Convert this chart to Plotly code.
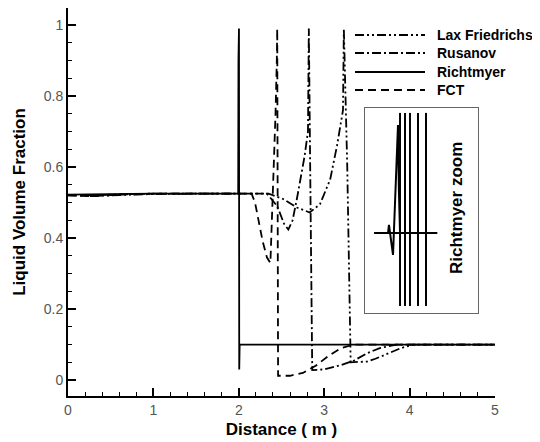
import plotly.graph_objects as go

# ---------------- data ----------------
rich_x = [0, 0.3, 0.6, 1.0, 1.5, 1.993, 1.996, 1.999, 2.002, 2.005, 2.01, 5.0]
rich_y = [0.522, 0.523, 0.525, 0.525, 0.525, 0.525, 0.9, 0.35, 0.99, 0.03, 0.1, 0.1]

fct_x = [0, 0.3, 0.6, 1.0, 1.5, 2.0, 2.15, 2.19, 2.23, 2.28, 2.33, 2.37, 2.39, 2.41, 2.43,
         2.445, 2.45, 2.455, 2.46, 2.6, 2.75, 2.9, 3.05, 3.2, 3.35, 5.0]
fct_y = [0.52, 0.518, 0.522, 0.525, 0.525, 0.525, 0.525, 0.5, 0.45, 0.39, 0.345, 0.33, 0.47, 0.6, 0.75,
         0.9, 0.99, 0.5, 0.012, 0.012, 0.02, 0.04, 0.068, 0.09, 0.1, 0.1]

rus_x = [0, 0.3, 0.6, 1.0, 1.5, 2.0, 2.33, 2.45, 2.53, 2.58, 2.63, 2.68, 2.72, 2.77, 2.81,
         2.82, 2.84, 2.86, 3.0, 3.2, 3.35, 3.5, 3.65, 3.85, 5.0]
rus_y = [0.521, 0.52, 0.523, 0.525, 0.525, 0.525, 0.525, 0.49, 0.44, 0.424, 0.45, 0.51, 0.565, 0.63, 0.7,
         0.99, 0.5, 0.028, 0.03, 0.042, 0.055, 0.075, 0.09, 0.1, 0.1]

lax_x = [0, 0.3, 0.6, 1.0, 1.5, 2.0, 2.35, 2.52, 2.68, 2.83, 2.95, 3.07, 3.15, 3.22,
         3.23, 3.27, 3.31, 3.5, 3.6, 3.75, 3.9, 4.05, 5.0]
lax_y = [0.52, 0.518, 0.521, 0.524, 0.525, 0.525, 0.525, 0.51, 0.486, 0.472, 0.495, 0.565, 0.66, 0.76,
         0.99, 0.6, 0.05, 0.052, 0.06, 0.075, 0.09, 0.1, 0.1]

# inset ("Richtmyer zoom"), normalised inset units
zoom_base_x = [0.08, 0.64]
zoom_base_y = [0.39, 0.39]
zoom_spike_x = [0.204, 0.212, 0.248, 0.265, 0.283, 0.292, 0.30, 0.31]
zoom_spike_y = [0.39, 0.43, 0.283, 0.54, 0.75, 0.917, 0.6, 0.39]
zoom_vert_x = [0.31, 0.354, 0.398, 0.469, 0.54]
zoom_vert_y = [0.034, 0.976]

series_names = ["Lax Friedrichs", "Rusanov", "Richtmyer", "FCT"]

x_ticks = [0, 1, 2, 3, 4, 5]
y_ticks = [0, 0.2, 0.4, 0.6, 0.8, 1.0]

# ---------------- styles ----------------
LAX_DASH = "9px,3px,2px,3px,2px,3px"
RUS_DASH = "9px,3px,2px,3px"
FCT_DASH = "8px,5px"
FONT = "Arial, Liberation Sans, sans-serif"
LW = 1.8

fig = go.Figure()
fig.add_trace(go.Scatter(x=lax_x, y=lax_y, mode="lines", name=series_names[0],
                         line=dict(color="black", width=LW, dash=LAX_DASH), showlegend=False))
fig.add_trace(go.Scatter(x=rus_x, y=rus_y, mode="lines", name=series_names[1],
                         line=dict(color="black", width=LW, dash=RUS_DASH), showlegend=False))
fig.add_trace(go.Scatter(x=rich_x, y=rich_y, mode="lines", name=series_names[2],
                         line=dict(color="black", width=LW), showlegend=False))
fig.add_trace(go.Scatter(x=fct_x, y=fct_y, mode="lines", name=series_names[3],
                         line=dict(color="black", width=LW, dash=FCT_DASH), showlegend=False))

# inset traces
vx, vy = [], []
for xv in zoom_vert_x:
    vx += [xv, xv, None]
    vy += [zoom_vert_y[0], zoom_vert_y[1], None]
fig.add_trace(go.Scatter(x=vx, y=vy, mode="lines", xaxis="x2", yaxis="y2",
                         line=dict(color="black", width=2), showlegend=False, hoverinfo="skip"))
fig.add_trace(go.Scatter(x=zoom_base_x, y=zoom_base_y, mode="lines", xaxis="x2", yaxis="y2",
                         line=dict(color="black", width=2), showlegend=False, hoverinfo="skip"))
fig.add_trace(go.Scatter(x=zoom_spike_x, y=zoom_spike_y, mode="lines", xaxis="x2", yaxis="y2",
                         line=dict(color="black", width=2), showlegend=False, hoverinfo="skip"))

# the page body has an 8px margin: work in window pixels and subtract it
OFF = 8
WIN_W, WIN_H = 540, 442
W, H = WIN_W - OFF, WIN_H - OFF
L, R, T, B = 68 - OFF, 495 - OFF, 8 - OFF, 396 - OFF

def px(x):
    return (x - OFF - L) / (R - L)
def py(y):
    return (B - (y - OFF)) / (B - T)

# manual legend
legend_dash = [LAX_DASH, RUS_DASH, "solid", FCT_DASH]
legend_rows = [35, 53, 72, 90]
for name, dash, row in zip(series_names, legend_dash, legend_rows):
    fig.add_shape(type="line", xref="paper", yref="paper",
                  x0=px(355), x1=px(425), y0=py(row), y1=py(row),
                  line=dict(color="black", width=LW, dash=dash))
    fig.add_annotation(text=name, xref="paper", yref="paper", x=px(435), y=py(row),
                       xanchor="left", yanchor="middle", showarrow=False,
                       font=dict(family=FONT, size=14, color="black", weight="bold"))

fig.add_annotation(text="Richtmyer zoom", xref="x2", yref="y2", x=0.81, y=0.51,
                   textangle=-90, showarrow=False, xanchor="center", yanchor="middle",
                   font=dict(family=FONT, size=17, color="black", weight="bold"))

fig.update_layout(
    width=W, height=H,
    margin=dict(l=L, r=W - R, t=T, b=H - B, autoexpand=False),
    paper_bgcolor="white", plot_bgcolor="white",
    font=dict(family=FONT),
    xaxis=dict(range=[0, 5], tickvals=x_ticks, ticks="inside", ticklen=8, tickwidth=1.5,
               tickcolor="black", showline=True, linecolor="black", linewidth=2,
               showgrid=False, zeroline=False,
               minor=dict(dtick=0.2, ticks="inside", ticklen=4, tickwidth=1.2, tickcolor="black",
                          showgrid=False),
               tickfont=dict(family=FONT, size=14, color="#555555"),
               title=dict(text="Distance ( m )", standoff=6,
                          font=dict(family=FONT, size=17, color="black", weight="bold"))),
    yaxis=dict(range=[-0.045, 1.048], tickvals=y_ticks, ticktext=["0", "0.2", "0.4", "0.6", "0.8", "1"],
               ticks="inside", ticklen=8, tickwidth=1.5,
               tickcolor="black", showline=True, linecolor="black", linewidth=2,
               showgrid=False, zeroline=False,
               minor=dict(dtick=0.05, ticks="inside", ticklen=4, tickwidth=1.2, tickcolor="black",
                          showgrid=False),
               tickfont=dict(family=FONT, size=14, color="#555555"),
               title=dict(text="Liquid Volume Fraction", standoff=14,
                          font=dict(family=FONT, size=17, color="black", weight="bold"))),
    xaxis2=dict(domain=[px(365), px(478)], range=[0, 1], anchor="y2", showline=True, mirror=True,
                linecolor="#666666", linewidth=1.2, showticklabels=False, ticks="",
                showgrid=False, zeroline=False),
    yaxis2=dict(domain=[py(313), py(108)], range=[0, 1], anchor="x2", showline=True, mirror=True,
                linecolor="#666666", linewidth=1.2, showticklabels=False, ticks="",
                showgrid=False, zeroline=False),
)

fig.write_html("out.html")
